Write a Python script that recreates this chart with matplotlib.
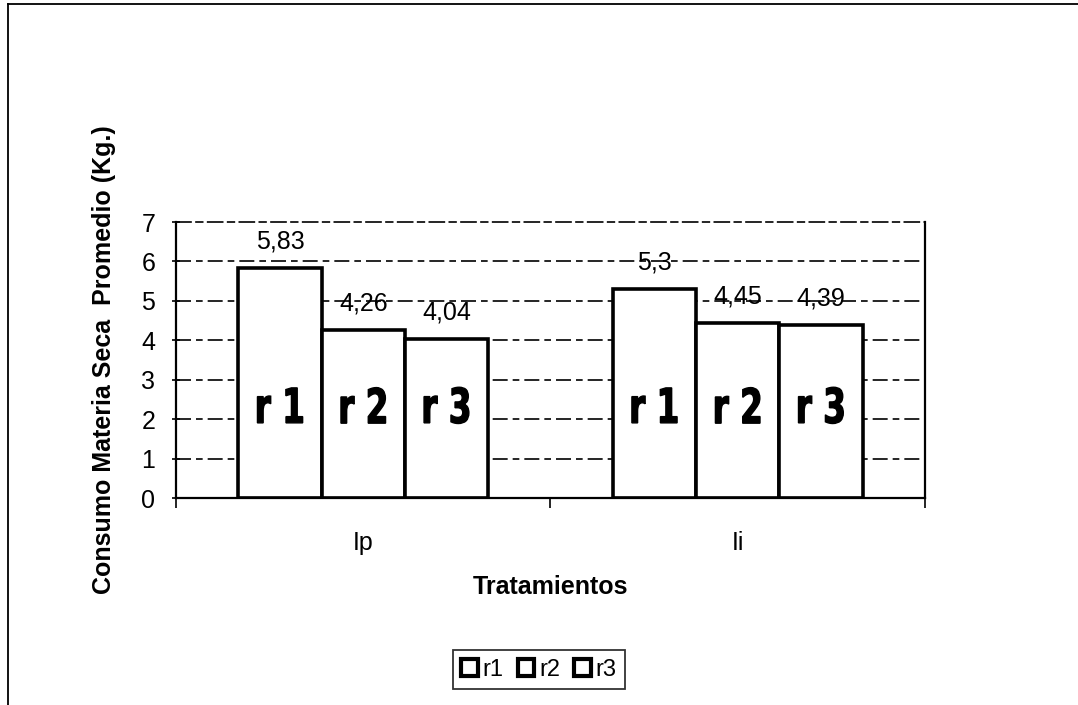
import numpy as np
import matplotlib
matplotlib.use('Agg')
from matplotlib import pyplot as plt
from matplotlib.lines import Line2D
from matplotlib.textpath import TextPath
from matplotlib.patches import PathPatch
from matplotlib.font_manager import FontProperties
from matplotlib.transforms import Affine2D

plt.rcParams['font.family'] = ['Liberation Sans', 'DejaVu Sans']
plt.rcParams['axes.unicode_minus'] = False

# datos
tratamientos = ['Ip', 'Ii']
series = ['r1', 'r2', 'r3']
r1 = [5.83, 5.30]
r2 = [4.26, 4.45]
r3 = [4.04, 4.39]
etiquetas_r1 = ['5,83', '5,3']
etiquetas_r2 = ['4,26', '4,45']
etiquetas_r3 = ['4,04', '4,39']
rotulos = ['r 1', 'r 2', 'r 3']

fig = plt.figure(figsize=(10.78, 7.05), dpi=100)
ax = fig.add_axes([0.1633, 0.2936, 0.6947, 0.3914])

x = np.arange(len(tratamientos))
ancho = 2 / 9
valores = [r1, r2, r3]
etiquetas = [etiquetas_r1, etiquetas_r2, etiquetas_r3]

ax.set_xlim(-0.5, 1.5)
ax.set_ylim(0, 7)

# lineas de division punteadas detras de las barras
for v in range(1, 7):
    ax.axhline(v, color='black', lw=1.2, ls=(0, (9, 3, 4, 3)), zorder=0)

# rotulo grueso y angosto dentro de cada barra (texto como trazo escalado)
fp = FontProperties(family='DejaVu Sans', weight='bold')


def rotulo_angosto(texto, xc, yc):
    tp = TextPath((0, 0), texto, size=48, prop=fp)
    bb = tp.get_extents()
    px, py = ax.transData.transform((xc, yc))
    tr = (Affine2D().translate(-bb.x0 - bb.width / 2, -bb.y0 - bb.height / 2)
          .scale(0.68, 1.0).translate(px, py))
    fig.add_artist(PathPatch(tp, transform=tr, facecolor='black',
                             edgecolor='black', lw=1.0, zorder=4))


for i, (vals, labs) in enumerate(zip(valores, etiquetas)):
    pos = x + (i - 1) * ancho
    ax.bar(pos, vals, width=ancho, color='white', edgecolor='black',
           linewidth=2.6, label=series[i], zorder=2)
    for xb, v, t in zip(pos, vals, labs):
        ax.annotate(t, (xb, v), xytext=(0, 19), textcoords='offset points',
                    ha='center', va='center', fontsize=18, zorder=3)
        rotulo_angosto(rotulos[i], xb, 2.35)

ax.set_yticks(range(0, 8))
ax.set_xticks(x)
ax.set_xticklabels(tratamientos)
ax.set_xticks([-0.5, 0.5, 1.5], minor=True)
ax.tick_params(axis='x', which='major', length=0, labelsize=18, pad=24)
ax.tick_params(axis='x', which='minor', length=7, width=1.2, direction='out')
ax.tick_params(axis='y', length=6, width=1.2, direction='inout', labelsize=18, pad=12)

for lado in ['left', 'bottom', 'right']:
    ax.spines[lado].set_linewidth(1.6)
ax.spines['top'].set_linewidth(1.2)
ax.spines['top'].set_linestyle((0, (9, 3, 4, 3)))

ax.set_xlabel('Tratamientos', fontsize=18, fontweight='bold', labelpad=14)
ax.set_ylabel('Consumo Materia Seca  Promedio (Kg.)', fontsize=18,
              fontweight='bold', labelpad=18)

leg = fig.legend(loc='center', bbox_to_anchor=(0.5, 0.05), ncol=3, fontsize=17,
                 frameon=True, fancybox=False, edgecolor='black',
                 handlelength=0.7, handleheight=0.7, handletextpad=0.2,
                 columnspacing=0.6, borderpad=0.35)
leg.get_frame().set_linewidth(1.3)
for h in leg.legend_handles:
    h.set_linewidth(3)

# marco exterior del grafico
fig.add_artist(Line2D([0.0075, 0.0075], [0.0, 0.994], color='black', lw=1.3))
fig.add_artist(Line2D([0.0075, 1.0], [0.994, 0.994], color='black', lw=1.3))

fig.savefig('out.png', dpi=100)
